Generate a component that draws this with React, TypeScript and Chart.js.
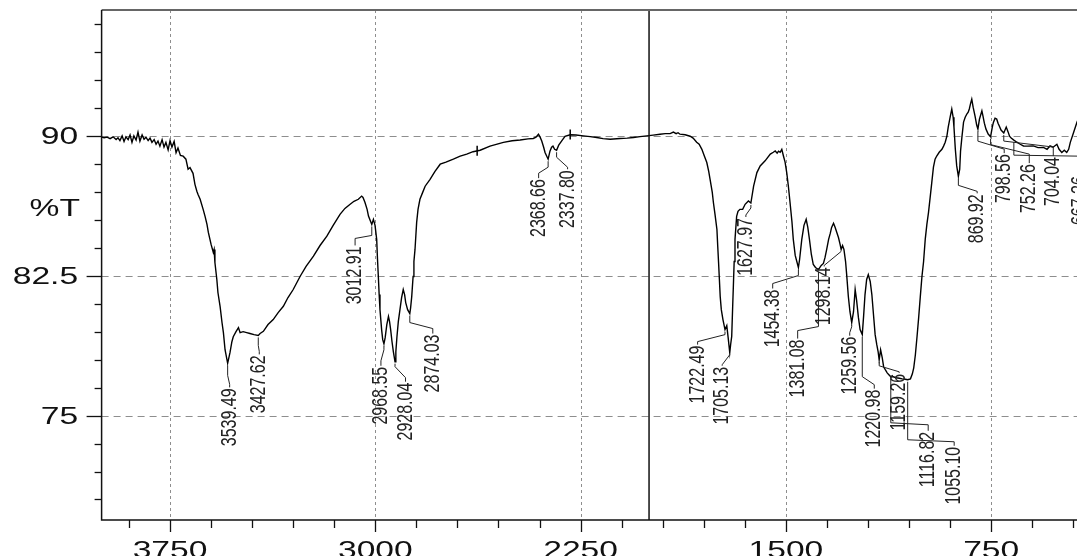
import { useEffect, useRef } from "react";
import { Chart, registerables } from "chart.js";

Chart.register(...registerables);

// ---------- data ----------
const wavenumber = [
  4000, 3991, 3980, 3969, 3958, 3947, 3940, 3933, 3925, 3918,
  3911, 3903, 3896, 3889, 3882, 3874, 3867, 3860, 3852, 3845,
  3838, 3830, 3823, 3816, 3808, 3801, 3794, 3787, 3779, 3772,
  3765, 3757, 3750, 3743, 3735, 3728, 3721, 3712, 3702, 3692,
  3684, 3677, 3666, 3659, 3652, 3648, 3640, 3629, 3622, 3615,
  3610, 3600, 3592, 3589, 3586, 3579, 3575, 3567, 3560, 3555,
  3549, 3539.49, 3531, 3524, 3519, 3509, 3500, 3494, 3483, 3470,
  3458, 3443, 3427.62, 3421, 3409, 3392, 3373, 3355, 3336, 3319,
  3300, 3275, 3253, 3226, 3202, 3177, 3154, 3129, 3111, 3092,
  3078, 3062, 3050, 3045, 3038, 3030, 3025, 3019, 3012.91, 3007,
  3001, 2995, 2992, 2989, 2986, 2983, 2977, 2973, 2968.55, 2964,
  2958, 2952, 2948, 2944, 2939, 2934, 2928.04, 2925, 2921, 2916,
  2910, 2904, 2898, 2893, 2889, 2882, 2874.03, 2871, 2867, 2862,
  2859, 2855, 2849, 2844, 2837, 2827, 2818, 2800, 2782, 2763,
  2742, 2715, 2690, 2666, 2643, 2617, 2581, 2532, 2500, 2471,
  2442, 2423, 2413, 2404, 2398, 2392, 2385, 2380, 2368.66, 2362,
  2356, 2351, 2345, 2337.8, 2330, 2319, 2307, 2288, 2267, 2240,
  2215, 2191, 2168, 2142, 2106, 2080, 2057, 2033, 2008, 1985,
  1960, 1941, 1923, 1911, 1901, 1894, 1887, 1868, 1850, 1839,
  1826, 1817, 1807, 1799, 1789, 1782, 1777, 1769, 1765, 1759,
  1752, 1749, 1746, 1743, 1740, 1736, 1730, 1722.49, 1716, 1711,
  1705.13, 1702, 1698, 1694, 1692, 1689, 1686, 1680, 1675, 1668,
  1658, 1649, 1637, 1627.97, 1618, 1606, 1594, 1576, 1557, 1546,
  1539, 1532, 1527, 1521, 1515, 1509, 1503, 1497, 1491, 1485,
  1478, 1473, 1466, 1454.38, 1450, 1442, 1434, 1426, 1420, 1414,
  1407, 1400, 1392, 1381.08, 1371, 1363, 1357, 1351, 1344, 1338,
  1333, 1326, 1320, 1314, 1308, 1302, 1298.14, 1293, 1288, 1282,
  1278, 1272, 1266, 1259.56, 1253, 1247, 1242, 1235, 1229, 1220.98,
  1216, 1211, 1205, 1199, 1192, 1186, 1180, 1174, 1168, 1163,
  1159.26, 1154, 1148, 1143, 1137, 1130, 1123, 1116.82, 1108, 1097,
  1086, 1075, 1064, 1055.1, 1045, 1038, 1033, 1027, 1021, 1015,
  1009, 1003, 997, 991, 985, 979, 973, 967, 961, 955,
  949, 940, 930, 924, 918, 912, 907, 900, 894, 889,
  886, 881, 876, 869.92, 865, 862, 857, 851, 845, 839,
  834, 830, 825, 821, 816, 809, 803, 798.56, 793, 784,
  780, 775, 769, 761, 752.26, 746, 742, 736, 730, 725,
  720, 714, 704.04, 695, 688, 683, 677, 667.26, 656, 644,
  632, 619, 596, 579, 559, 546, 535, 524, 510, 502,
  492, 483, 474, 467, 461, 449, 437, 425, 415, 400,
];

const transmittance = [
  89.93, 89.9, 89.93, 89.85, 89.95, 89.8, 89.9, 89.75, 90.0, 89.7,
  89.95, 89.8, 90.05, 89.65, 90.0, 89.78, 90.2, 89.72, 90.05, 89.82,
  89.93, 89.75, 89.88, 89.65, 89.8, 89.55, 89.72, 89.45, 89.8, 89.4,
  89.65, 89.25, 89.75, 89.4, 89.7, 89.1, 89.35, 88.95, 88.91, 88.75,
  88.21, 88.3, 87.99, 87.4, 87.03, 86.87, 86.6, 86.06, 85.68, 85.25,
  84.82, 84.18, 83.75, 83.91, 83.21, 82.3, 81.6, 80.84, 79.98, 79.45,
  78.53, 77.8, 78.37, 78.96, 79.23, 79.5, 79.72, 79.45, 79.5, 79.45,
  79.4, 79.34, 79.3, 79.4, 79.52, 79.88, 80.15, 80.52, 80.86, 81.33,
  81.76, 82.46, 83.0, 83.55, 84.12, 84.62, 85.2, 85.79, 86.11, 86.33,
  86.49, 86.6, 86.77, 86.7, 86.44, 86.06, 85.7, 85.47, 85.25, 85.52,
  85.2, 84.45, 83.37, 82.46, 81.49, 80.68, 79.61, 79.07, 78.85, 79.18,
  79.88, 80.32, 80.04, 79.61, 78.96, 78.42, 77.89, 78.42, 79.23, 80.04,
  80.68, 81.33, 81.76, 81.49, 81.06, 80.68, 80.47, 80.79, 81.38, 82.46,
  83.26, 83.91, 85.36, 86.06, 86.6, 86.97, 87.3, 87.67, 88.1, 88.48,
  88.59, 88.75, 88.91, 89.02, 89.15, 89.23, 89.45, 89.65, 89.74, 89.78,
  89.84, 89.86, 89.93, 90.09, 89.93, 89.72, 89.39, 89.11, 88.75, 89.18,
  89.39, 89.45, 89.28, 89.23, 89.5, 89.73, 89.98, 90.06, 90.05, 90.0,
  89.96, 89.91, 89.85, 89.82, 89.86, 89.88, 89.91, 89.96, 90.0, 90.04,
  90.09, 90.12, 90.12, 90.2, 90.12, 90.17, 90.09, 90.06, 89.98, 89.88,
  89.66, 89.55, 89.28, 88.96, 88.57, 88.1, 87.67, 86.97, 86.44, 85.79,
  84.98, 84.07, 83.21, 82.3, 81.38, 80.68, 80.15, 79.61, 79.82, 79.18,
  78.37, 78.8, 79.25, 81.06, 81.92, 83.26, 84.45, 85.68, 85.95, 86.06,
  86.06, 86.33, 86.51, 86.4, 87.31, 88.03, 88.39, 88.66, 89.02, 89.12,
  89.19, 89.07, 89.18, 89.12, 89.28, 88.92, 88.59, 88.03, 87.3, 86.44,
  85.41, 84.45, 83.59, 82.94, 83.37, 84.45, 85.2, 85.52, 85.09, 84.45,
  83.64, 83.1, 82.94, 82.83, 83.05, 83.16, 83.48, 83.91, 84.45, 84.77,
  85.09, 85.31, 85.09, 84.82, 84.55, 84.18, 83.91, 84.12, 83.91, 83.26,
  82.56, 81.4, 80.57, 79.98, 80.57, 81.76, 81.22, 80.25, 79.61, 79.34,
  80.36, 81.49, 82.3, 82.56, 82.19, 81.49, 80.41, 79.34, 78.8, 78.42,
  77.99, 78.53, 78.1, 77.62, 77.46, 77.29, 77.18, 77.08, 77.08, 77.03,
  77.0, 76.97, 76.95, 76.92, 76.97, 77.24, 77.56, 78.26, 79.23, 80.25,
  81.38, 82.46, 83.26, 84.45, 85.25, 85.9, 86.7, 87.51, 88.32, 88.75,
  88.92, 89.12, 89.28, 89.45, 89.66, 89.98, 90.47, 91.0, 91.44, 91.0,
  90.47, 89.28, 88.39, 87.83, 88.21, 89.18, 89.93, 90.74, 91.0, 91.17,
  91.27, 91.44, 91.76, 91.97, 91.54, 91.06, 90.58, 90.36, 90.89, 91.34,
  91.06, 90.68, 90.36, 90.1, 89.96, 90.47, 90.72, 90.95, 90.9, 90.68,
  90.52, 90.31, 90.15, 90.47, 90.2, 89.98, 89.88, 89.77, 89.66, 89.55,
  89.46, 89.45, 89.46, 89.37, 89.38, 89.28, 89.46, 89.39, 89.55, 89.28,
  89.11, 89.23, 89.11, 89.28, 89.65, 90.18, 90.72, 91.17, 91.5, 91.8,
];

const peakWavenumber = [
  3539.49, 3427.62, 3012.91, 2968.55, 2928.04, 2874.03, 2368.66, 2337.8,
  1722.49, 1705.13, 1627.97, 1454.38, 1381.08, 1298.14, 1259.56, 1220.98,
  1159.26, 1116.82, 1055.1, 869.92, 798.56, 752.26, 704.04, 667.26,
];
const peakLabels = [
  "3539.49", "3427.62", "3012.91", "2968.55", "2928.04", "2874.03", "2368.66", "2337.80",
  "1722.49", "1705.13", "1627.97", "1454.38", "1381.08", "1298.14", "1259.56", "1220.98",
  "1159.26", "1116.82", "1055.10", "869.92", "798.56", "752.26", "704.04", "667.26",
];

const markerWavenumber = [2628, 2288];
const markerTransmittance = [89.2, 90.08];

const xMajorTicks = [3750, 3000, 2250, 1500, 750];
const yMajorTicks = [90, 82.5, 75];
const yAxisTitle = "%T";
const splitWavenumber = 2000;

// ---------- layout / styles (not data) ----------
// leader layout per peak label: [dx, dyTop, firstDrop, approach] in px
const leaderLayout = [
  [2, 25, 12, 4], [1, 20, 10, 4], [-16.7, 22, 11, 8], [-3, 23, 6, 6],
  [10.5, 21, 5, 5], [23, 21, 9, 6], [-9.5, 20, 8, 6], [11, 20, 7, 3],
  [-27.4, 16, 5, 4], [-7.6, 14, 2, 2], [-5, 15, 5, 3], [-25.7, 22, 8, 6],
  [-20.8, 70, 57, 9], [-17, 18, 2, 2], [-2, 14, 4, 4], [12, 55, 42, 5],
  [20, 14, 6, 2], [37.4, 55, 46, 7], [46.5, 67, 60, 5], [18.8, 18, 9, 3],
  [26.3, 25, 12, 5], [38.7, 27.5, 8, 10], [49.5, 24, 8, 10], [66, 36, 15, 20],
];

const FONT_AXIS = "24px 'Liberation Sans', Arial, sans-serif";
const FONT_PEAK = "16px 'Liberation Sans', Arial, sans-serif";
const STRETCH = 1.4;

function stretchedText(ctx: CanvasRenderingContext2D, text: string, x: number, y: number, align: CanvasTextAlign) {
  ctx.save();
  ctx.translate(x, y);
  ctx.scale(STRETCH, 1);
  ctx.textAlign = align;
  ctx.textBaseline = "alphabetic";
  ctx.fillText(text, 0, 0);
  ctx.restore();
}

const decorPlugin = {
  id: "irDecor",
  beforeDatasetsDraw(chart: any) {
    const { ctx, chartArea: a, scales } = chart;
    const x = scales.x, y = scales.y;
    ctx.save();
    ctx.strokeStyle = "#8e8e8e";
    ctx.lineWidth = 1;
    ctx.setLineDash([3, 3]);
    for (const v of xMajorTicks) {
      const px = Math.round(x.getPixelForValue(v)) + 0.5;
      ctx.beginPath();
      ctx.moveTo(px, a.top);
      ctx.lineTo(px, a.bottom);
      ctx.stroke();
    }
    ctx.setLineDash([7, 5]);
    for (const v of yMajorTicks) {
      const py = Math.round(y.getPixelForValue(v)) + 0.5;
      ctx.beginPath();
      ctx.moveTo(a.left, py);
      ctx.lineTo(a.right, py);
      ctx.stroke();
    }
    ctx.restore();
  },
  afterDatasetsDraw(chart: any) {
    const { ctx, chartArea: a, scales } = chart;
    const x = scales.x, y = scales.y;
    ctx.save();
    ctx.setLineDash([]);

    // split line
    const sx = x.getPixelForValue(splitWavenumber);
    ctx.strokeStyle = "#111";
    ctx.lineWidth = 1.5;
    ctx.beginPath();
    ctx.moveTo(sx, a.top);
    ctx.lineTo(sx, a.bottom);
    ctx.stroke();

    // frame
    ctx.strokeStyle = "#666";
    ctx.lineWidth = 2;
    ctx.beginPath();
    ctx.moveTo(a.left, a.top);
    ctx.lineTo(a.right, a.top);
    ctx.stroke();
    ctx.strokeStyle = "#111";
    ctx.lineWidth = 1.5;
    ctx.beginPath();
    ctx.moveTo(a.left, a.top);
    ctx.lineTo(a.left, a.bottom);
    ctx.lineTo(a.right, a.bottom);
    ctx.lineTo(a.right, a.top);
    ctx.stroke();

    // y ticks
    ctx.lineWidth = 1.3;
    const yStep = 1.5;
    for (let v = Math.ceil(y.min / yStep) * yStep; v <= y.max + 1e-9; v += yStep) {
      const py = Math.round(y.getPixelForValue(v)) + 0.5;
      const major = Math.abs(v / 7.5 - Math.round(v / 7.5)) < 1e-6;
      ctx.beginPath();
      ctx.moveTo(a.left, py);
      ctx.lineTo(a.left - (major ? 15 : 7), py);
      ctx.stroke();
    }
    // x ticks
    const xStep = 150;
    for (let v = Math.ceil(x.min / xStep) * xStep; v <= x.max; v += xStep) {
      const px = Math.round(x.getPixelForValue(v)) + 0.5;
      const major = v % 750 === 0;
      ctx.beginPath();
      ctx.moveTo(px, a.bottom);
      ctx.lineTo(px, a.bottom + (major ? 12 : 8));
      ctx.stroke();
    }

    // axis labels
    ctx.fillStyle = "#111";
    ctx.font = FONT_AXIS;
    for (const v of yMajorTicks) {
      const py = y.getPixelForValue(v);
      stretchedText(ctx, String(v), a.left - 23.5, py + 8.6, "right");
    }
    stretchedText(ctx, yAxisTitle, 80, y.getPixelForValue(90) + 80, "right");
    for (const v of xMajorTicks) {
      const px = x.getPixelForValue(v);
      stretchedText(ctx, String(v), px, a.bottom + 38, "center");
    }

    // peak labels with leaders
    ctx.strokeStyle = "#222";
    ctx.fillStyle = "#222";
    ctx.lineWidth = 1;
    ctx.font = FONT_PEAK;
    peakWavenumber.forEach((w, i) => {
      const idx = wavenumber.indexOf(w);
      const t = transmittance[idx];
      const px = x.getPixelForValue(w);
      const py = y.getPixelForValue(t);
      const [dx, dy, e1, e2] = leaderLayout[i];
      const lx = px + dx;
      const top = py + dy;
      ctx.beginPath();
      ctx.moveTo(px, py + 2);
      ctx.lineTo(px, py + e1);
      ctx.lineTo(lx, top - e2);
      ctx.lineTo(lx, top - 1);
      ctx.stroke();
      ctx.save();
      ctx.translate(lx, top);
      ctx.scale(STRETCH, 1);
      ctx.rotate(-Math.PI / 2);
      ctx.textAlign = "right";
      ctx.textBaseline = "middle";
      ctx.fillText(peakLabels[i], 0, 0);
      ctx.restore();
    });
    ctx.restore();
  },
};

export default function App() {
  const ref = useRef<HTMLCanvasElement | null>(null);
  useEffect(() => {
    if (!ref.current) return;
    const spectrum = wavenumber.map((w, i) => ({ x: w, y: transmittance[i] }));
    const markers = markerWavenumber.map((w, i) => ({ x: w, y: markerTransmittance[i] }));
    const chart = new Chart(ref.current, {
      type: "line",
      data: {
        datasets: [
          {
            data: spectrum,
            borderColor: "#000",
            borderWidth: 1.4,
            pointRadius: 0,
            tension: 0,
            fill: false,
          },
          {
            data: markers,
            showLine: false,
            pointStyle: "line",
            pointRotation: 90,
            pointRadius: 5,
            pointBorderColor: "#000",
            pointBorderWidth: 1.5,
          } as any,
        ],
      },
      options: {
        responsive: false,
        animation: false,
        devicePixelRatio: 1,
        events: [],
        layout: { padding: { top: 10, right: 13, left: 0, bottom: 0 } },
        plugins: { legend: { display: false }, tooltip: { enabled: false } },
        scales: {
          x: {
            type: "linear",
            reverse: true,
            min: 400,
            max: 4000,
            ticks: { display: false },
            grid: { display: false, drawTicks: false },
            border: { display: false },
            afterFit: (s: any) => { s.height = 60; },
          },
          y: {
            type: "linear",
            min: 69.4,
            max: 96.75,
            ticks: { display: false },
            grid: { display: false, drawTicks: false },
            border: { display: false },
            afterFit: (s: any) => { s.width = 101.6; },
          },
        },
      },
      plugins: [decorPlugin],
    } as any);
    return () => chart.destroy();
  }, []);
  return (
    <div style={{ position: "absolute", left: 0, top: 0, width: 1077, height: 556, overflow: "hidden", background: "#fff" }}>
      <canvas ref={ref} width={1100} height={580} style={{ display: "block" }} />
    </div>
  );
}
